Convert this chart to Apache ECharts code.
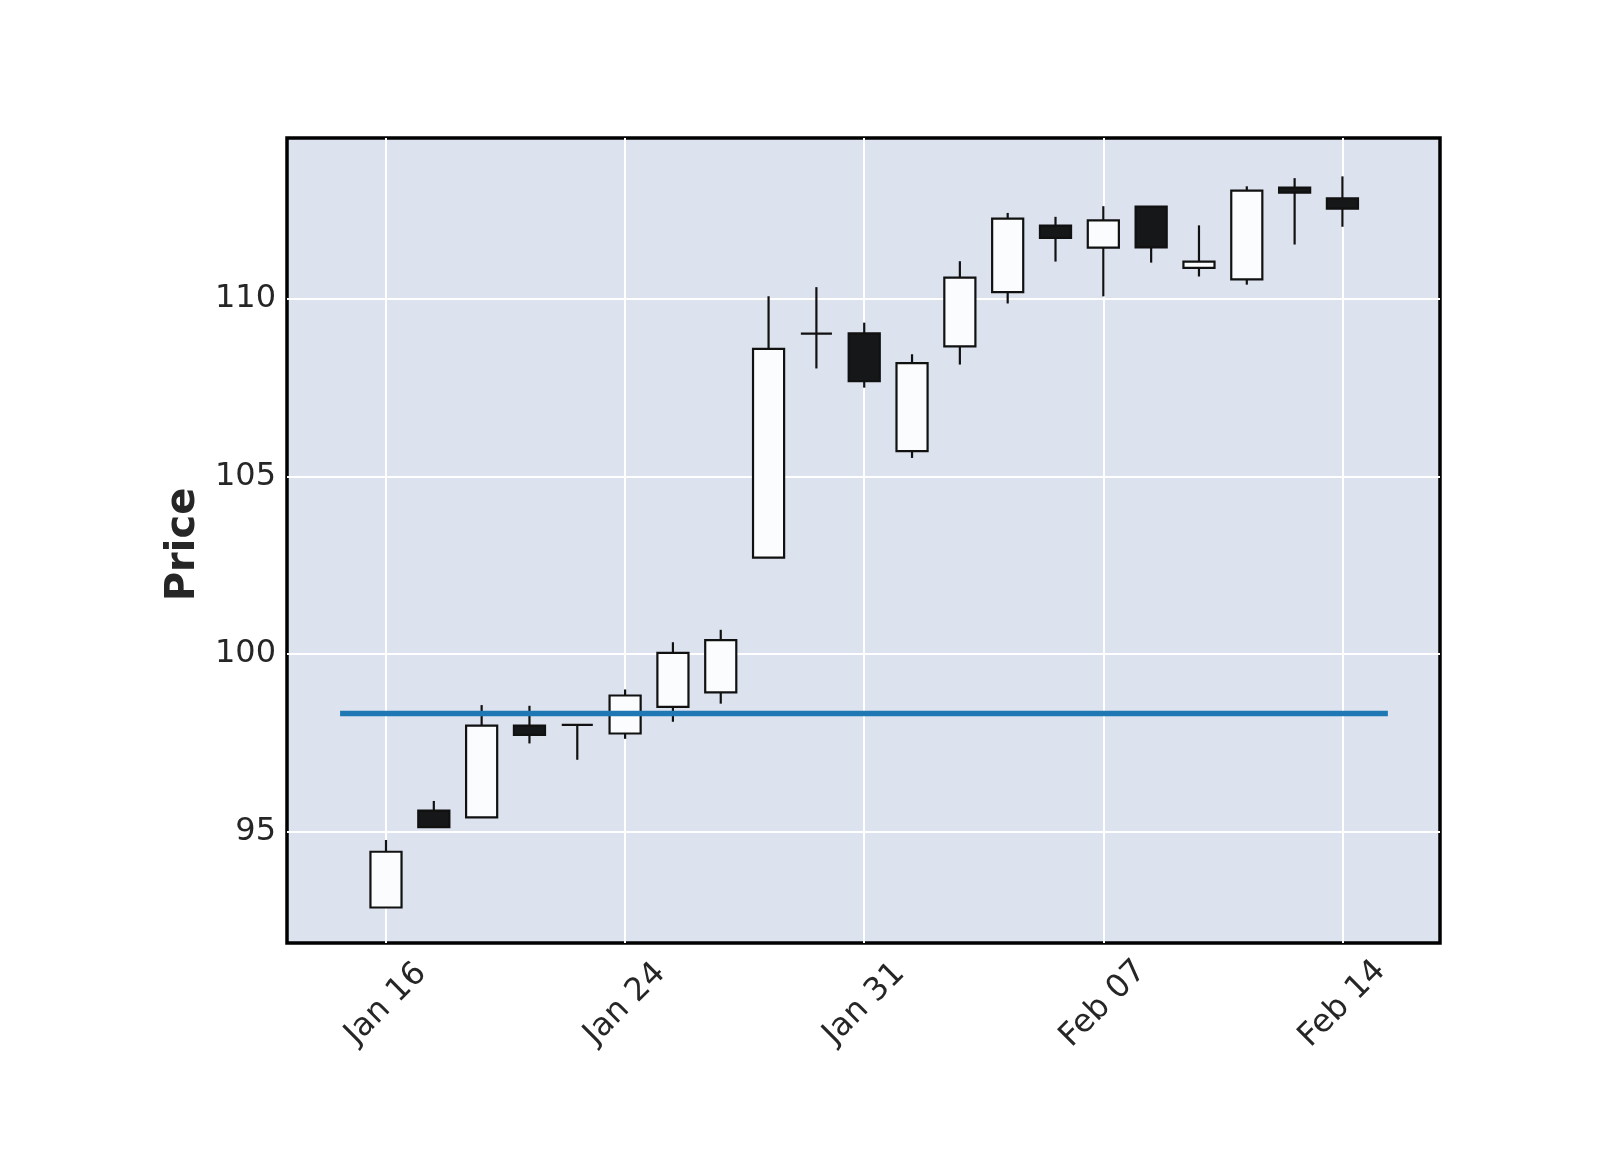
<!DOCTYPE html>
<html>
<head>
<meta charset="utf-8">
<script src="https://cdn.jsdelivr.net/npm/echarts@6/dist/echarts.min.js"></script>
<style>
  html, body { margin: 0; padding: 0; background: #ffffff; }
  #chart { width: 1600px; height: 1150px; }
</style>
</head>
<body>
<div id="chart"></div>
<script>
// ---- data ----
const dates = ['Jan 16','Jan 17','Jan 21','Jan 22','Jan 23','Jan 24','Jan 27','Jan 28','Jan 29','Jan 30',
               'Jan 31','Feb 03','Feb 04','Feb 05','Feb 06','Feb 07','Feb 10','Feb 11','Feb 12','Feb 13','Feb 14'];
const opens  = [92.86, 95.59, 95.40, 97.98, 98.00, 97.76, 98.51, 98.92, 102.71, 109.02, 109.03,
                105.71, 108.66, 110.19, 112.06, 111.44, 112.60, 110.87, 110.55, 113.13, 112.83];
const closes = [94.43, 95.12, 97.98, 97.72, 98.00, 98.83, 100.03, 100.39, 108.59, 109.02, 107.68,
                108.19, 110.60, 112.26, 111.72, 112.21, 111.45, 111.05, 113.05, 112.99, 112.54];
const highs  = [94.76, 95.86, 98.56, 98.54, 98.00, 99.00, 100.33, 100.68, 110.07, 110.33, 109.33,
                108.44, 111.06, 112.42, 112.31, 112.61, 112.60, 112.07, 113.17, 113.40, 113.45];
const lows   = [92.86, 95.12, 95.40, 97.48, 97.02, 97.61, 98.09, 98.60, 102.71, 108.04, 107.50,
                105.52, 108.15, 109.87, 111.05, 110.07, 111.02, 110.63, 110.40, 111.53, 112.03];
const hlineValue = 98.32;
const hlineSpan = [-0.96, 20.95];
const xTickIndices = [0, 5, 10, 15, 20];
const yTickValues = [95, 100, 105, 110];

// ---- styling ----
const FONT = 'DejaVu Sans';
const TEXT = '#262626';
const upFill = '#fbfcfd';
const downFill = '#161718';
const edge = '#111111';
const bodyWidth = 0.65;

const candleData = dates.map((d, i) => [i, opens[i], closes[i], lows[i], highs[i]]);
const hlineData = hlineSpan.map(x => [x, hlineValue]);

const chart = echarts.init(document.getElementById('chart'), null, { renderer: 'canvas' });
chart.setOption({
  backgroundColor: '#ffffff',
  animation: false,
  grid: {
    left: 287, right: 160, top: 138, bottom: 207,
    show: true, backgroundColor: '#DCE3EF', borderColor: '#000000', borderWidth: 3.5
  },
  xAxis: {
    type: 'value', min: -2.07, max: 22.04,
    axisLine: { show: false },
    axisTick: { show: false, customValues: xTickIndices },
    splitLine: { show: true, lineStyle: { color: '#ffffff', width: 2 } },
    axisLabel: {
      customValues: xTickIndices,
      formatter: v => dates[Math.round(v)] || '',
      rotate: 45, align: 'center', verticalAlign: 'middle', margin: 61,
      fontFamily: FONT, fontSize: 32, color: TEXT
    }
  },
  yAxis: {
    type: 'value', min: 91.86, max: 114.53,
    axisLine: { show: false },
    axisTick: { show: false, customValues: yTickValues },
    splitLine: { show: true, lineStyle: { color: '#ffffff', width: 2 } },
    axisLabel: {
      customValues: yTickValues, margin: 11,
      fontFamily: FONT, fontSize: 32, color: TEXT
    },
    name: 'Price', nameLocation: 'middle', nameGap: 75,
    nameTextStyle: { fontFamily: FONT, fontSize: 40, fontWeight: 'bold', color: TEXT, padding: [0, 8, 0, 0] }
  },
  series: [
    {
      type: 'custom', z: 2, clip: false,
      data: candleData,
      encode: { x: 0, y: [1, 2, 3, 4] },
      renderItem: function (params, api) {
        const i = api.value(0), o = api.value(1), c = api.value(2), l = api.value(3), h = api.value(4);
        const halfW = api.size([bodyWidth, 0])[0] / 2;
        const pO = api.coord([i, o]), pC = api.coord([i, c]);
        const pL = api.coord([i, l]), pH = api.coord([i, h]);
        const up = c >= o;
        const top = Math.min(pO[1], pC[1]), bot = Math.max(pO[1], pC[1]);
        return {
          type: 'group',
          children: [
            { type: 'line', shape: { x1: pH[0], y1: pH[1], x2: pL[0], y2: pL[1] },
              style: { stroke: edge, lineWidth: 2.2 } },
            { type: 'rect', shape: { x: pO[0] - halfW, y: top, width: 2 * halfW, height: bot - top },
              style: { fill: up ? upFill : downFill, stroke: edge, lineWidth: 2.2 } }
          ]
        };
      }
    },
    {
      type: 'line', z: 3, data: hlineData, symbol: 'none',
      lineStyle: { color: '#1f77b4', width: 5.5 }
    }
  ]
});
</script>
</body>
</html>
